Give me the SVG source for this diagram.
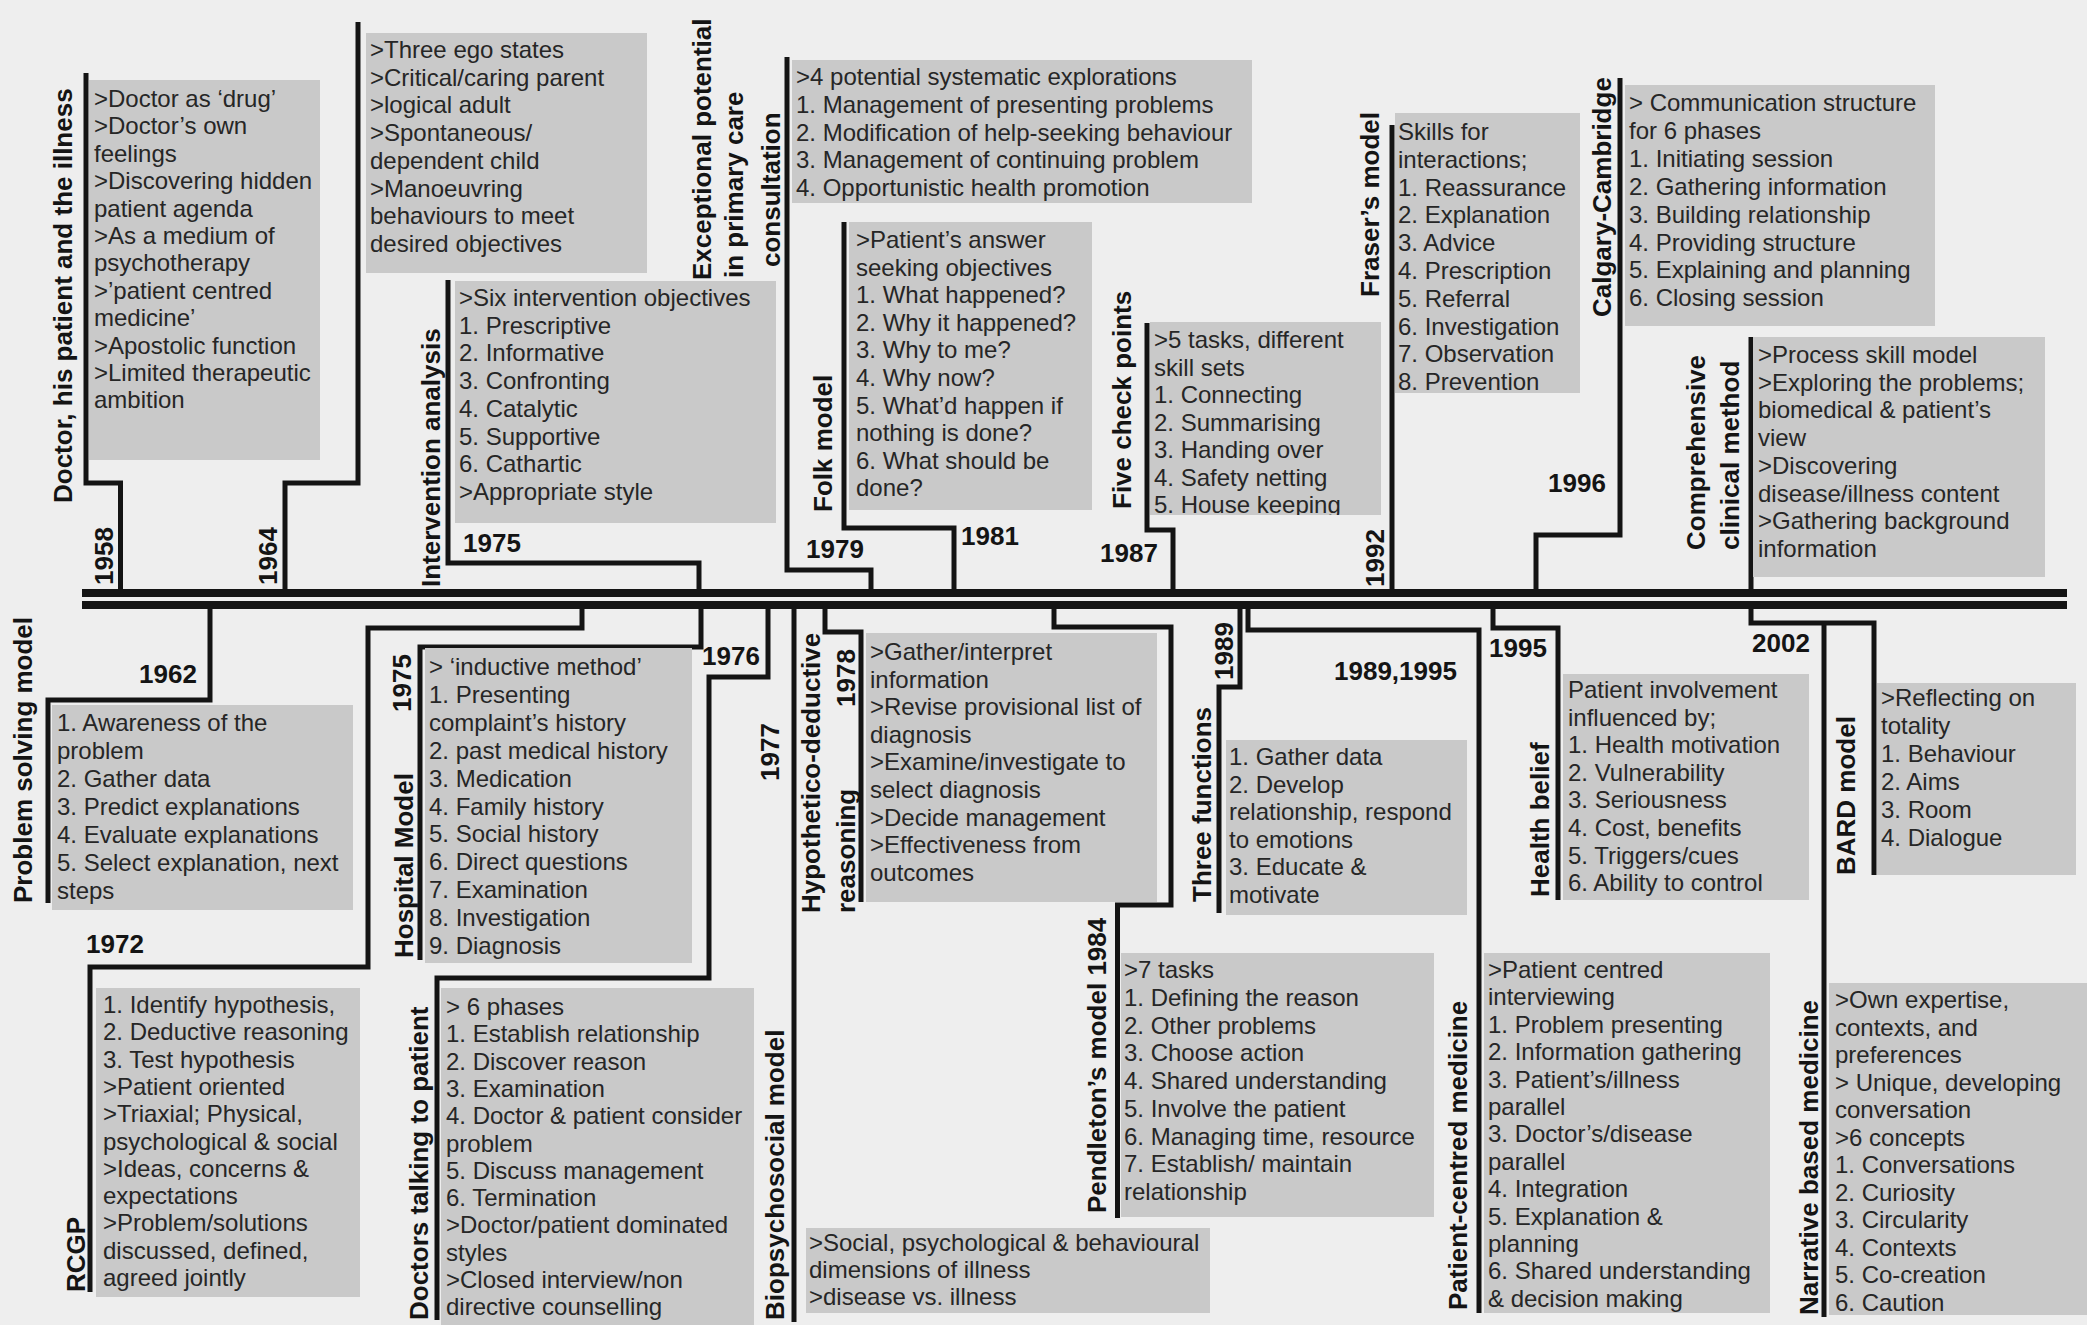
<svg xmlns="http://www.w3.org/2000/svg" width="2087" height="1325" viewBox="0 0 2087 1325">
<style>
.box{fill:#c9c9c9}
.t{font-family:"Liberation Sans",Arial,sans-serif;font-size:24px;fill:#262626}
.lb{font-family:"Liberation Sans",Arial,sans-serif;font-size:26px;font-weight:bold;fill:#141414}
.c{fill:none;stroke:#141414;stroke-width:5;stroke-linejoin:miter}
</style>
<defs>
<clipPath id="clipFive"><rect x="1150" y="322" width="231" height="193"/></clipPath>
</defs>
<rect x="0" y="0" width="2087" height="1325" fill="#eeeeee"/>

<g id="timeline">
<rect x="82" y="589" width="1985" height="8" fill="#141414"/>
<rect x="82" y="601" width="1985" height="8" fill="#141414"/>
</g>

<g id="connectors">
<path class="c" d="M86,73 V483 H120.5 V593"/>
<path class="c" d="M358,22 V483 H285 V593"/>
<path class="c" d="M448,280 V563 H699 V593"/>
<path class="c" d="M787,57 V570 H871 V593"/>
<path class="c" d="M844,222 V528 H954 V593"/>
<path class="c" d="M1147,323 V530 H1173 V593"/>
<path class="c" d="M1392,125 V593"/>
<path class="c" d="M1620,78 V535 H1536 V593"/>
<path class="c" d="M1751,337 V593"/>
<path class="c" d="M210,605 V700 H48 V903"/>
<path class="c" d="M582,605 V628 H368 V967 H90 V1292"/>
<path class="c" d="M701,605 V647 H420 V960"/>
<path class="c" d="M768,605 V677 H709 V978 H437 V1320"/>
<path class="c" d="M794,605 V1322"/>
<path class="c" d="M825,605 V632 H861 V902"/>
<path class="c" d="M1054,605 V627 H1171 V905 H1117.5 V1218"/>
<path class="c" d="M1240,605 V687 H1219 V913"/>
<path class="c" d="M1248,605 V630 H1479 V1313"/>
<path class="c" d="M1493,605 V628 H1558 V900"/>
<path class="c" d="M1751,605 V623 H1874 V875"/>
<path class="c" d="M1824,623 V1317"/>
</g>

<g id="node-1958-doctor">
<rect class="box" x="89" y="80" width="231" height="380"/>
<text class="t" x="94" y="107"><tspan x="94">&gt;Doctor as ‘drug’</tspan><tspan x="94" dy="27.4">&gt;Doctor’s own</tspan><tspan x="94" dy="27.4">feelings</tspan><tspan x="94" dy="27.4">&gt;Discovering hidden</tspan><tspan x="94" dy="27.4">patient agenda</tspan><tspan x="94" dy="27.4">&gt;As a medium of</tspan><tspan x="94" dy="27.4">psychotherapy</tspan><tspan x="94" dy="27.4">&gt;’patient centred</tspan><tspan x="94" dy="27.4">medicine’</tspan><tspan x="94" dy="27.4">&gt;Apostolic function</tspan><tspan x="94" dy="27.4">&gt;Limited therapeutic</tspan><tspan x="94" dy="27.4">ambition</tspan></text>
<text class="lb" transform="translate(72,503) rotate(-90)">Doctor, his patient and the illness</text>
<text class="lb" transform="translate(113,585) rotate(-90)">1958</text>
</g>

<g id="node-1964-ego">
<rect class="box" x="366" y="33" width="281" height="240"/>
<text class="t" x="370" y="58"><tspan x="370">&gt;Three ego states</tspan><tspan x="370" dy="27.7">&gt;Critical/caring parent</tspan><tspan x="370" dy="27.7">&gt;logical adult</tspan><tspan x="370" dy="27.7">&gt;Spontaneous/</tspan><tspan x="370" dy="27.7">dependent child</tspan><tspan x="370" dy="27.7">&gt;Manoeuvring</tspan><tspan x="370" dy="27.7">behaviours to meet</tspan><tspan x="370" dy="27.7">desired objectives</tspan></text>
<text class="lb" transform="translate(277,585) rotate(-90)">1964</text>
</g>

<g id="node-1975-intervention">
<rect class="box" x="455" y="281" width="321" height="242"/>
<text class="t" x="459" y="306"><tspan x="459">&gt;Six intervention objectives</tspan><tspan x="459" dy="27.7">1. Prescriptive</tspan><tspan x="459" dy="27.7">2. Informative</tspan><tspan x="459" dy="27.7">3. Confronting</tspan><tspan x="459" dy="27.7">4. Catalytic</tspan><tspan x="459" dy="27.7">5. Supportive</tspan><tspan x="459" dy="27.7">6. Cathartic</tspan><tspan x="459" dy="27.7">&gt;Appropriate style</tspan></text>
<text class="lb" transform="translate(440,587) rotate(-90)">Intervention analysis</text>
<text class="lb" x="463" y="552">1975</text>
</g>

<g id="node-1979-exceptional">
<rect class="box" x="792" y="60" width="460" height="143"/>
<text class="t" x="796" y="85"><tspan x="796">&gt;4 potential systematic explorations</tspan><tspan x="796" dy="27.8">1. Management of presenting problems</tspan><tspan x="796" dy="27.8">2. Modification of help-seeking behaviour</tspan><tspan x="796" dy="27.8">3. Management of continuing problem</tspan><tspan x="796" dy="27.8">4. Opportunistic health promotion</tspan></text>
<text class="lb" transform="translate(711,280) rotate(-90)">Exceptional potential</text>
<text class="lb" transform="translate(743,278) rotate(-90)">in primary care</text>
<text class="lb" transform="translate(780,267) rotate(-90)">consultation</text>
<text class="lb" x="806" y="558">1979</text>
</g>

<g id="node-1981-folk">
<rect class="box" x="849" y="222" width="243" height="288"/>
<text class="t" x="856" y="248"><tspan x="856">&gt;Patient’s answer</tspan><tspan x="856" dy="27.6">seeking objectives</tspan><tspan x="856" dy="27.6">1. What happened?</tspan><tspan x="856" dy="27.6">2. Why it happened?</tspan><tspan x="856" dy="27.6">3. Why to me?</tspan><tspan x="856" dy="27.6">4. Why now?</tspan><tspan x="856" dy="27.6">5. What’d happen if</tspan><tspan x="856" dy="27.6">nothing is done?</tspan><tspan x="856" dy="27.6">6. What should be</tspan><tspan x="856" dy="27.6">done?</tspan></text>
<text class="lb" transform="translate(832,512) rotate(-90)">Folk model</text>
<text class="lb" x="961" y="545">1981</text>
</g>

<g id="node-1987-five">
<rect class="box" x="1150" y="322" width="231" height="193"/>
<text class="t" x="1154" y="348" clip-path="url(#clipFive)"><tspan x="1154">&gt;5 tasks, different</tspan><tspan x="1154" dy="27.5">skill sets</tspan><tspan x="1154" dy="27.5">1. Connecting</tspan><tspan x="1154" dy="27.5">2. Summarising</tspan><tspan x="1154" dy="27.5">3. Handing over</tspan><tspan x="1154" dy="27.5">4. Safety netting</tspan><tspan x="1154" dy="27.5">5. House keeping</tspan></text>
<text class="lb" transform="translate(1131,509) rotate(-90)">Five check points</text>
<text class="lb" x="1100" y="562">1987</text>
</g>

<g id="node-1992-fraser">
<rect class="box" x="1395" y="113" width="185" height="280"/>
<text class="t" x="1398" y="140"><tspan x="1398">Skills for</tspan><tspan x="1398" dy="27.8">interactions;</tspan><tspan x="1398" dy="27.8">1. Reassurance</tspan><tspan x="1398" dy="27.8">2. Explanation</tspan><tspan x="1398" dy="27.8">3. Advice</tspan><tspan x="1398" dy="27.8">4. Prescription</tspan><tspan x="1398" dy="27.8">5. Referral</tspan><tspan x="1398" dy="27.8">6. Investigation</tspan><tspan x="1398" dy="27.8">7. Observation</tspan><tspan x="1398" dy="27.8">8. Prevention</tspan></text>
<text class="lb" transform="translate(1379,297) rotate(-90)">Fraser’s model</text>
<text class="lb" transform="translate(1384,587) rotate(-90)">1992</text>
</g>

<g id="node-1996-calgary">
<rect class="box" x="1625" y="85" width="310" height="241"/>
<text class="t" x="1629" y="111"><tspan x="1629">&gt; Communication structure</tspan><tspan x="1629" dy="27.9">for 6 phases</tspan><tspan x="1629" dy="27.9">1. Initiating session</tspan><tspan x="1629" dy="27.9">2. Gathering information</tspan><tspan x="1629" dy="27.9">3. Building relationship</tspan><tspan x="1629" dy="27.9">4. Providing structure</tspan><tspan x="1629" dy="27.9">5. Explaining and planning</tspan><tspan x="1629" dy="27.9">6. Closing session</tspan></text>
<text class="lb" transform="translate(1611,317) rotate(-90)">Calgary-Cambridge</text>
<text class="lb" x="1548" y="492">1996</text>
</g>

<g id="node-comprehensive">
<rect class="box" x="1753" y="337" width="292" height="240"/>
<text class="t" x="1758" y="363"><tspan x="1758">&gt;Process skill model</tspan><tspan x="1758" dy="27.7">&gt;Exploring the problems;</tspan><tspan x="1758" dy="27.7">biomedical &amp; patient’s</tspan><tspan x="1758" dy="27.7">view</tspan><tspan x="1758" dy="27.7">&gt;Discovering</tspan><tspan x="1758" dy="27.7">disease/illness content</tspan><tspan x="1758" dy="27.7">&gt;Gathering background</tspan><tspan x="1758" dy="27.7">information</tspan></text>
<text class="lb" transform="translate(1705,550) rotate(-90)">Comprehensive</text>
<text class="lb" transform="translate(1739,550) rotate(-90)">clinical method</text>
</g>

<g id="node-1962-problem">
<rect class="box" x="52" y="705" width="301" height="205"/>
<text class="t" x="57" y="731"><tspan x="57">1. Awareness of the</tspan><tspan x="57" dy="28">problem</tspan><tspan x="57" dy="28">2. Gather data</tspan><tspan x="57" dy="28">3. Predict explanations</tspan><tspan x="57" dy="28">4. Evaluate explanations</tspan><tspan x="57" dy="28">5. Select explanation, next</tspan><tspan x="57" dy="28">steps</tspan></text>
<text class="lb" transform="translate(32,903) rotate(-90)">Problem solving model</text>
<text class="lb" x="139" y="683">1962</text>
</g>

<g id="node-1972-rcgp">
<rect class="box" x="96" y="988" width="264" height="309"/>
<text class="t" x="103" y="1013"><tspan x="103">1. Identify hypothesis,</tspan><tspan x="103" dy="27.3">2. Deductive reasoning</tspan><tspan x="103" dy="27.3">3. Test hypothesis</tspan><tspan x="103" dy="27.3">&gt;Patient oriented</tspan><tspan x="103" dy="27.3">&gt;Triaxial; Physical,</tspan><tspan x="103" dy="27.3">psychological &amp; social</tspan><tspan x="103" dy="27.3">&gt;Ideas, concerns &amp;</tspan><tspan x="103" dy="27.3">expectations</tspan><tspan x="103" dy="27.3">&gt;Problem/solutions</tspan><tspan x="103" dy="27.3">discussed, defined,</tspan><tspan x="103" dy="27.3">agreed jointly</tspan></text>
<text class="lb" transform="translate(85,1292) rotate(-90)">RCGP</text>
<text class="lb" x="86" y="953">1972</text>
</g>

<g id="node-1975-hospital">
<rect class="box" x="425" y="648" width="267" height="315"/>
<text class="t" x="429" y="675"><tspan x="429">&gt; ‘inductive method’</tspan><tspan x="429" dy="27.9">1. Presenting</tspan><tspan x="429" dy="27.9">complaint’s history</tspan><tspan x="429" dy="27.9">2. past medical history</tspan><tspan x="429" dy="27.9">3. Medication</tspan><tspan x="429" dy="27.9">4. Family history</tspan><tspan x="429" dy="27.9">5. Social history</tspan><tspan x="429" dy="27.9">6. Direct questions</tspan><tspan x="429" dy="27.9">7. Examination</tspan><tspan x="429" dy="27.9">8. Investigation</tspan><tspan x="429" dy="27.9">9. Diagnosis</tspan></text>
<text class="lb" transform="translate(413,958) rotate(-90)">Hospital Model</text>
<text class="lb" transform="translate(411,712) rotate(-90)">1975</text>
</g>

<g id="node-1976-doctors">
<rect class="box" x="441" y="988" width="313" height="337"/>
<text class="t" x="446" y="1015"><tspan x="446">&gt; 6 phases</tspan><tspan x="446" dy="27.3">1. Establish relationship</tspan><tspan x="446" dy="27.3">2. Discover reason</tspan><tspan x="446" dy="27.3">3. Examination</tspan><tspan x="446" dy="27.3">4. Doctor &amp; patient consider</tspan><tspan x="446" dy="27.3">problem</tspan><tspan x="446" dy="27.3">5. Discuss management</tspan><tspan x="446" dy="27.3">6. Termination</tspan><tspan x="446" dy="27.3">&gt;Doctor/patient dominated</tspan><tspan x="446" dy="27.3">styles</tspan><tspan x="446" dy="27.3">&gt;Closed interview/non</tspan><tspan x="446" dy="27.3">directive counselling</tspan></text>
<text class="lb" transform="translate(428,1320) rotate(-90)">Doctors talking to patient</text>
<text class="lb" x="702" y="665">1976</text>
</g>

<g id="node-1977-biopsychosocial">
<rect class="box" x="806" y="1228" width="404" height="85"/>
<text class="t" x="809" y="1251"><tspan x="809">&gt;Social, psychological &amp; behavioural</tspan><tspan x="809" dy="27">dimensions of illness</tspan><tspan x="809" dy="27">&gt;disease vs. illness</tspan></text>
<text class="lb" transform="translate(784,1320) rotate(-90)">Biopsychosocial model</text>
<text class="lb" transform="translate(779,781) rotate(-90)">1977</text>
</g>

<g id="node-1978-hypothetico">
<rect class="box" x="866" y="633" width="291" height="269"/>
<text class="t" x="870" y="660"><tspan x="870">&gt;Gather/interpret</tspan><tspan x="870" dy="27.6">information</tspan><tspan x="870" dy="27.6">&gt;Revise provisional list of</tspan><tspan x="870" dy="27.6">diagnosis</tspan><tspan x="870" dy="27.6">&gt;Examine/investigate to</tspan><tspan x="870" dy="27.6">select diagnosis</tspan><tspan x="870" dy="27.6">&gt;Decide management</tspan><tspan x="870" dy="27.6">&gt;Effectiveness from</tspan><tspan x="870" dy="27.6">outcomes</tspan></text>
<text class="lb" transform="translate(820,913) rotate(-90)">Hypothetico-deductive</text>
<text class="lb" transform="translate(855,913) rotate(-90)">reasoning</text>
<text class="lb" transform="translate(855,707) rotate(-90)">1978</text>
</g>

<g id="node-1984-pendleton">
<rect class="box" x="1121" y="953" width="313" height="264"/>
<text class="t" x="1124" y="978"><tspan x="1124">&gt;7 tasks</tspan><tspan x="1124" dy="27.75">1. Defining the reason</tspan><tspan x="1124" dy="27.75">2. Other problems</tspan><tspan x="1124" dy="27.75">3. Choose action</tspan><tspan x="1124" dy="27.75">4. Shared understanding</tspan><tspan x="1124" dy="27.75">5. Involve the patient</tspan><tspan x="1124" dy="27.75">6. Managing time, resource</tspan><tspan x="1124" dy="27.75">7. Establish/ maintain</tspan><tspan x="1124" dy="27.75">relationship</tspan></text>
<text class="lb" transform="translate(1106,1213) rotate(-90)">Pendleton’s model 1984</text>
</g>

<g id="node-1989-three">
<rect class="box" x="1226" y="740" width="241" height="175"/>
<text class="t" x="1229" y="765"><tspan x="1229">1. Gather data</tspan><tspan x="1229" dy="27.6">2. Develop</tspan><tspan x="1229" dy="27.6">relationship, respond</tspan><tspan x="1229" dy="27.6">to emotions</tspan><tspan x="1229" dy="27.6">3. Educate &amp;</tspan><tspan x="1229" dy="27.6">motivate</tspan></text>
<text class="lb" transform="translate(1211,902) rotate(-90)">Three functions</text>
<text class="lb" transform="translate(1233,680) rotate(-90)">1989</text>
</g>

<g id="node-1989-1995-patientcentred">
<rect class="box" x="1484" y="953" width="286" height="360"/>
<text class="t" x="1488" y="978"><tspan x="1488">&gt;Patient centred</tspan><tspan x="1488" dy="27.4">interviewing</tspan><tspan x="1488" dy="27.4">1. Problem presenting</tspan><tspan x="1488" dy="27.4">2. Information gathering</tspan><tspan x="1488" dy="27.4">3. Patient’s/illness</tspan><tspan x="1488" dy="27.4">parallel</tspan><tspan x="1488" dy="27.4">3. Doctor’s/disease</tspan><tspan x="1488" dy="27.4">parallel</tspan><tspan x="1488" dy="27.4">4. Integration</tspan><tspan x="1488" dy="27.4">5. Explanation &amp;</tspan><tspan x="1488" dy="27.4">planning</tspan><tspan x="1488" dy="27.4">6. Shared understanding</tspan><tspan x="1488" dy="27.4">&amp; decision making</tspan></text>
<text class="lb" transform="translate(1467,1310) rotate(-90)">Patient-centred medicine</text>
<text class="lb" x="1334" y="680">1989,1995</text>
</g>

<g id="node-1995-health">
<rect class="box" x="1563" y="674" width="246" height="226"/>
<text class="t" x="1568" y="698"><tspan x="1568">Patient involvement</tspan><tspan x="1568" dy="27.6">influenced by;</tspan><tspan x="1568" dy="27.6">1. Health motivation</tspan><tspan x="1568" dy="27.6">2. Vulnerability</tspan><tspan x="1568" dy="27.6">3. Seriousness</tspan><tspan x="1568" dy="27.6">4. Cost, benefits</tspan><tspan x="1568" dy="27.6">5. Triggers/cues</tspan><tspan x="1568" dy="27.6">6. Ability to control</tspan></text>
<text class="lb" transform="translate(1549,897) rotate(-90)">Health belief</text>
<text class="lb" x="1489" y="657">1995</text>
</g>

<g id="node-2002-bard">
<rect class="box" x="1877" y="683" width="199" height="192"/>
<text class="t" x="1881" y="706"><tspan x="1881">&gt;Reflecting on</tspan><tspan x="1881" dy="27.9">totality</tspan><tspan x="1881" dy="27.9">1. Behaviour</tspan><tspan x="1881" dy="27.9">2. Aims</tspan><tspan x="1881" dy="27.9">3. Room</tspan><tspan x="1881" dy="27.9">4. Dialogue</tspan></text>
<text class="lb" transform="translate(1855,875) rotate(-90)">BARD model</text>
<text class="lb" x="1752" y="652">2002</text>
</g>

<g id="node-narrative">
<rect class="box" x="1829" y="983" width="258" height="332"/>
<text class="t" x="1835" y="1008"><tspan x="1835">&gt;Own expertise,</tspan><tspan x="1835" dy="27.5">contexts, and</tspan><tspan x="1835" dy="27.5">preferences</tspan><tspan x="1835" dy="27.5">&gt; Unique, developing</tspan><tspan x="1835" dy="27.5">conversation</tspan><tspan x="1835" dy="27.5">&gt;6 concepts</tspan><tspan x="1835" dy="27.5">1. Conversations</tspan><tspan x="1835" dy="27.5">2. Curiosity</tspan><tspan x="1835" dy="27.5">3. Circularity</tspan><tspan x="1835" dy="27.5">4. Contexts</tspan><tspan x="1835" dy="27.5">5. Co-creation</tspan><tspan x="1835" dy="27.5">6. Caution</tspan></text>
<text class="lb" transform="translate(1818,1315) rotate(-90)">Narrative based medicine</text>
</g>
</svg>
